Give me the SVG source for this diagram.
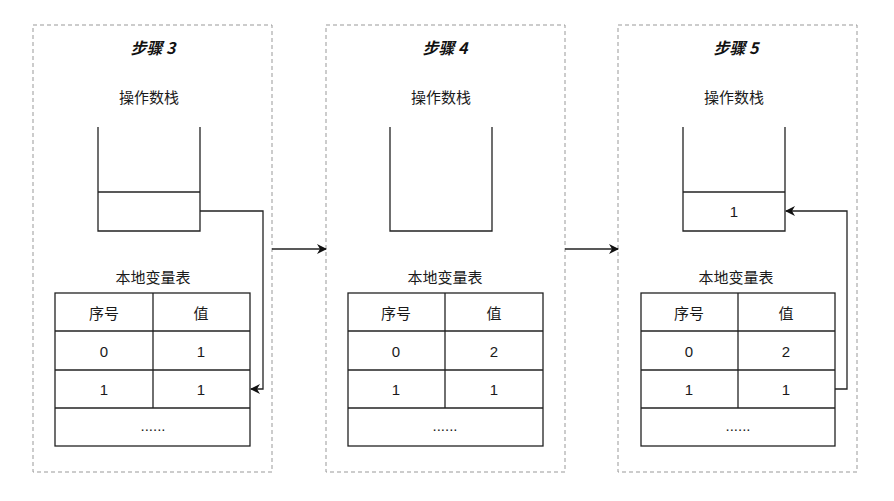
<svg xmlns="http://www.w3.org/2000/svg" width="894" height="501" viewBox="0 0 894 501">
<defs>
<style>
.panel{fill:none;stroke:#999;stroke-width:1;stroke-dasharray:4 3}
.ln{fill:none;stroke:#222;stroke-width:1.3}
.box{fill:#fff;stroke:#222;stroke-width:1.3}
.t{font-family:"Noto Sans CJK SC","Liberation Sans",sans-serif;font-size:15px;fill:#1a1a1a;text-anchor:middle;dominant-baseline:central}
.n{font-family:"Liberation Sans","Noto Sans CJK SC",sans-serif;font-size:15px;fill:#1a1a1a;text-anchor:middle;dominant-baseline:central}
.h{font-family:"Noto Sans CJK SC",serif;font-size:16px;font-weight:bold;font-style:italic;fill:#111;text-anchor:middle;dominant-baseline:central}
.c{fill:none;stroke:#222;stroke-width:1.3}
</style>
<marker id="ah" viewBox="0 0 10 10" refX="9" refY="5" markerWidth="10" markerHeight="10" markerUnits="userSpaceOnUse" orient="auto">
<path d="M0,0 L10,5 L0,10 L3,5 Z" fill="#111"/>
</marker>
</defs>

<g id="step3">
<rect class="panel" x="33" y="25" width="239" height="447"/>
<text class="h" x="153" y="47">步骤 3</text>
<text class="t" x="149" y="96">操作数栈</text>
<path class="ln" d="M98,127 V231 H200 V127"/>
<line class="ln" x1="98" y1="192" x2="200" y2="192"/>
<text class="t" x="153" y="276">本地变量表</text>
<rect class="box" x="55" y="293" width="195" height="153"/>
<line class="ln" x1="55" y1="331" x2="250" y2="331"/>
<line class="ln" x1="55" y1="370" x2="250" y2="370"/>
<line class="ln" x1="55" y1="408" x2="250" y2="408"/>
<line class="ln" x1="153" y1="293" x2="153" y2="408"/>
<text class="t" x="104" y="312">序号</text>
<text class="t" x="201" y="312">值</text>
<text class="n" x="104" y="351">0</text>
<text class="n" x="201" y="351">1</text>
<text class="n" x="104" y="389">1</text>
<text class="n" x="201" y="389">1</text>
<text class="n" x="153" y="425" font-size="12">......</text>
</g>

<g id="step4">
<rect class="panel" x="326" y="25" width="239" height="447"/>
<text class="h" x="445" y="47">步骤 4</text>
<text class="t" x="441" y="96">操作数栈</text>
<path class="ln" d="M390,127 V231 H492 V127"/>
<text class="t" x="445" y="276">本地变量表</text>
<rect class="box" x="348" y="293" width="195" height="153"/>
<line class="ln" x1="348" y1="331" x2="543" y2="331"/>
<line class="ln" x1="348" y1="370" x2="543" y2="370"/>
<line class="ln" x1="348" y1="408" x2="543" y2="408"/>
<line class="ln" x1="445" y1="293" x2="445" y2="408"/>
<text class="t" x="396" y="312">序号</text>
<text class="t" x="494" y="312">值</text>
<text class="n" x="396" y="351">0</text>
<text class="n" x="494" y="351">2</text>
<text class="n" x="396" y="389">1</text>
<text class="n" x="494" y="389">1</text>
<text class="n" x="445" y="425" font-size="12">......</text>
</g>

<g id="step5">
<rect class="panel" x="618" y="25" width="239" height="447"/>
<text class="h" x="736" y="47">步骤 5</text>
<text class="t" x="734" y="96">操作数栈</text>
<path class="ln" d="M683,127 V231 H785 V127"/>
<line class="ln" x1="683" y1="192" x2="785" y2="192"/>
<text class="n" x="734" y="211">1</text>
<text class="t" x="736" y="276">本地变量表</text>
<rect class="box" x="641" y="293" width="194" height="153"/>
<line class="ln" x1="641" y1="331" x2="835" y2="331"/>
<line class="ln" x1="641" y1="370" x2="835" y2="370"/>
<line class="ln" x1="641" y1="408" x2="835" y2="408"/>
<line class="ln" x1="738" y1="293" x2="738" y2="408"/>
<text class="t" x="689" y="312">序号</text>
<text class="t" x="786" y="312">值</text>
<text class="n" x="689" y="351">0</text>
<text class="n" x="786" y="351">2</text>
<text class="n" x="689" y="389">1</text>
<text class="n" x="786" y="389">1</text>
<text class="n" x="738" y="425" font-size="12">......</text>
</g>

<g id="connectors">
<path class="c" d="M200,211 H263 V389 H251" marker-end="url(#ah)"/>
<path class="c" d="M272,249 H326" marker-end="url(#ah)"/>
<path class="c" d="M565,249 H618" marker-end="url(#ah)"/>
<path class="c" d="M835,389 H847 V211 H786" marker-end="url(#ah)"/>
</g>
</svg>
